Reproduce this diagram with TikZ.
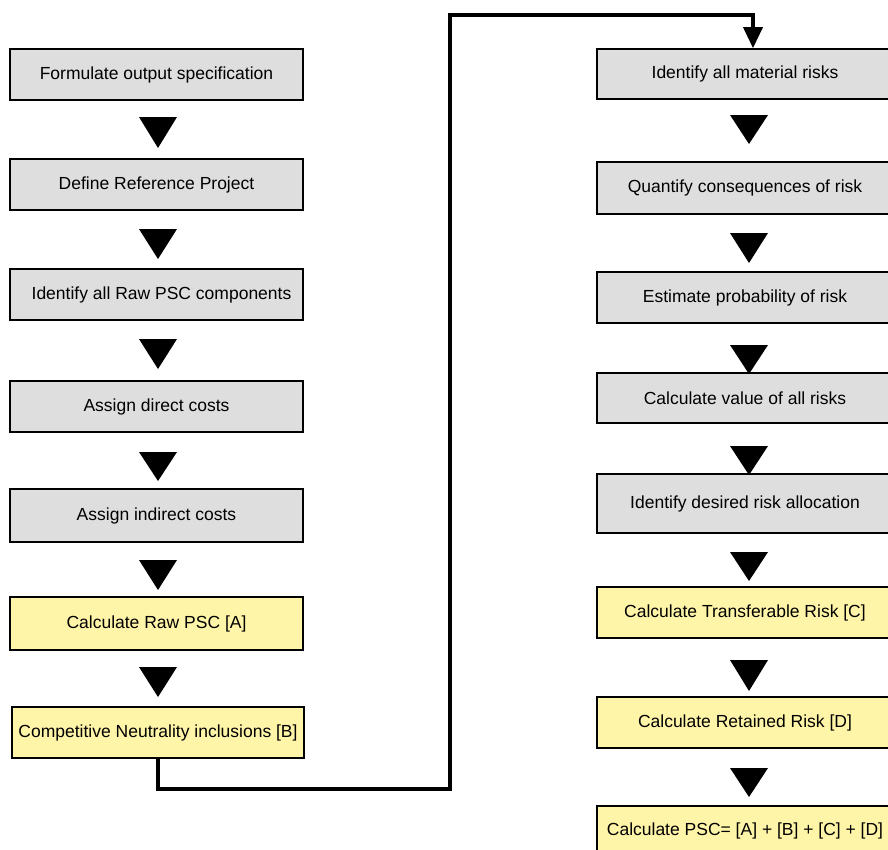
\documentclass[tikz,border=0pt]{standalone}
\usepackage{fontspec}
\setmainfont{Liberation Sans}
\usetikzlibrary{arrows.meta}
\definecolor{boxgrey}{HTML}{DEDEDE}
\definecolor{boxyellow}{HTML}{FFF5A8}
\tikzset{
  box/.style={draw=black, line width=1.6pt, fill=boxgrey, inner sep=0pt,
    font=\fontsize{17.5}{20}\selectfont, minimum width=293pt, minimum height=51pt},
  ybox/.style={box, fill=boxyellow},
  rbox/.style={box, minimum width=296pt},
  rybox/.style={ybox, minimum width=296pt},
  conn/.style={line width=3.5pt, -{Triangle[width=19pt,length=21pt]}},
}
\newcommand\downtri[3]{\fill[black] (#1-19,#2) -- (#1+19,#2) -- (#1,#3) -- cycle;}
\begin{document}
\begin{tikzpicture}[x=1pt,y=-1pt]
\useasboundingbox (0,0) rectangle (888,849);
% left column
\node[box] (L1) at (156.5,74.5) {Formulate output specification};
\node[box] (L2) at (156.5,184.5) {Define Reference Project};
\node[box] (L3) at (156.5,294.5) {\hspace*{10pt}Identify all Raw PSC components};
\node[box] (L4) at (156.5,406.5) {Assign direct costs};
\node[box, minimum height=53pt] (L5) at (156.5,515.5) {Assign indirect costs};
\node[ybox, minimum height=53pt] (L6) at (156.5,623.5) {Calculate Raw PSC [A]};
\node[ybox, minimum width=292pt] (L7) at (158,732.5) {Competitive Neutrality inclusions [B]};
% right column
\node[rbox, minimum height=50pt] (R1) at (745,74) {Identify all material risks};
\node[rbox, minimum height=52pt] (R2) at (745,188) {Quantify consequences of risk};
\node[rbox] (R3) at (745,297.5) {Estimate probability of risk};
\node[rbox, minimum height=50pt] (R4) at (745,398) {Calculate value of all risks};
\node[rbox, minimum height=59pt] (R5) at (745,503.5) {Identify desired risk allocation};
\node[rybox] (R6) at (745,612.5) {Calculate Transferable Risk [C]};
\node[rybox] (R7) at (745,722.5) {Calculate Retained Risk [D]};
\node[rybox, minimum height=50pt] (R8) at (745,831) {Calculate PSC= [A] + [B] + [C] + [D]};
% triangles left
\downtri{158}{117}{148}
\downtri{158}{229}{259}
\downtri{158}{339}{369}
\downtri{158}{452}{481}
\downtri{158}{560}{590}
\downtri{158}{667}{697}
% triangles right
\downtri{749}{115}{144}
\downtri{749}{233}{263}
\downtri{749}{345}{374}
\downtri{749}{446}{475}
\downtri{749}{552}{581}
\downtri{749}{660}{691}
\downtri{749}{768}{797}
% connector
\coordinate (c2) at (450,789);
\coordinate (c3) at (450,15);
\coordinate (c4) at (753,15);
\draw[conn] (L7.south) |- (c2) -- (c3) -- (c4) -- (c4 |- R1.north);
\end{tikzpicture}
\end{document}
